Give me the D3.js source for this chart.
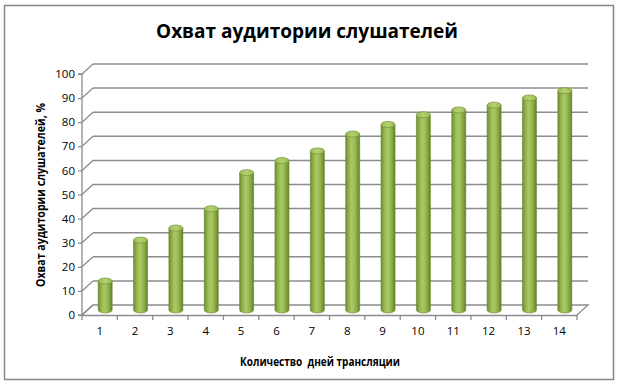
<!DOCTYPE html>
<html><head><meta charset="utf-8">
<script src="https://cdn.jsdelivr.net/npm/d3@7"></script>
<style>body{margin:0;background:#fff}svg{display:block}</style>
</head><body>
<svg id="c" width="620" height="386"></svg>
<script>
const categories = ["1","2","3","4","5","6","7","8","9","10","11","12","13","14"];
const values = [12, 29, 34, 42, 57, 62, 66, 73, 77, 81, 83, 85, 88, 91];
const yTicks = [0,10,20,30,40,50,60,70,80,90,100];
const title = "Охват аудитории слушателей";
const yTitle = "Охват аудитории слушателей, %";
const xTitle = "Количество  дней трансляции";

const svg = d3.select("#c");
const font = "'Open Sans', 'Liberation Sans', sans-serif";
const DX = 11, DY = -10;
const x = d3.scaleBand().domain(categories).range([82, 577]).paddingInner(0).paddingOuter(0);
const y = d3.scaleLinear().domain([0, 100]).range([315, 74]);

// border
svg.append("rect").attr("x",4.5).attr("y",5.5).attr("width",609).attr("height",374)
  .attr("fill","#fff").attr("stroke","#868686").attr("stroke-width",1.5);

// defs
const defs = svg.append("defs");
const g1 = defs.append("linearGradient").attr("id","cyl").attr("x1","0").attr("x2","1").attr("y1","0").attr("y2","0");
[[0,"#6c8a30"],[0.2,"#8fb04a"],[0.42,"#a9ca62"],[0.6,"#9fc05a"],[0.85,"#7f9f3c"],[1,"#5f7b28"]]
  .forEach(([o,c])=>g1.append("stop").attr("offset",o).attr("stop-color",c));
const g2 = defs.append("linearGradient").attr("id","top").attr("x1","0").attr("x2","1");
[[0,"#9cbc58"],[0.5,"#b4d172"],[1,"#98b955"]].forEach(([o,c])=>g2.append("stop").attr("offset",o).attr("stop-color",c));

const gridC = "#8c8c8c";
const grid = svg.append("g");
// back-wall gridlines + left wall diagonals
yTicks.forEach(t=>{
  const yy = y(t);
  grid.append("line").attr("x1",82).attr("y1",yy).attr("x2",82+DX).attr("y2",yy+DY)
    .attr("stroke",gridC).attr("stroke-width",1.3);
  if (t>0) grid.append("line").attr("x1",82+DX).attr("y1",yy+DY).attr("x2",577+DX).attr("y2",yy+DY)
    .attr("stroke",gridC).attr("stroke-width",1.5);
});
// floor
grid.append("path").attr("d",`M82,${y(0)}L${82+DX},${y(0)+DY}L${577+DX},${y(0)+DY}L577,${y(0)}`)
  .attr("fill","none").attr("stroke",gridC).attr("stroke-width",1.3);

// y axis
const yAxis = d3.axisLeft(y).tickValues(yTicks).tickSize(4).tickPadding(3);
const ya = svg.append("g").attr("transform","translate(82,0)").call(yAxis);
ya.select(".domain").attr("stroke",gridC).attr("stroke-width",1.3).attr("d",`M-4,${y(100)}H0V${y(0)}H-4`);
ya.selectAll(".tick line").attr("stroke",gridC).attr("stroke-width",1.3);
ya.selectAll("text").attr("font-family",font).attr("font-size",11.5).attr("fill","#000");

// x axis
const xAxis = d3.axisBottom(x).tickSize(0).tickPadding(12);
const xa = svg.append("g").attr("transform",`translate(0,${y(0)})`).call(xAxis);
xa.select(".domain").attr("stroke",gridC).attr("stroke-width",1.3);
xa.selectAll("text").attr("font-family",font).attr("font-size",11.5).attr("fill","#000");
const bounds = categories.map(c=>x(c)).concat([x(categories[categories.length-1])+x.bandwidth()]);
xa.selectAll(".bt").data(bounds).enter().append("line").attr("class","bt")
  .attr("x1",d=>d).attr("x2",d=>d).attr("y1",0).attr("y2",5).attr("stroke",gridC).attr("stroke-width",1.3);

// bars (cylinders)
const bw = 14, ry = 3;
const bars = svg.append("g");
categories.forEach((c,i)=>{
  const cx = x(c) + x.bandwidth()/2 + DX/2;
  const yb = y(0) + DY/2;
  const yt = y(values[i]) + DY/2;
  const g = bars.append("g");
  g.append("path")
    .attr("d",`M${cx-bw/2},${yt}V${yb}A${bw/2},${ry} 0 0 0 ${cx+bw/2},${yb}V${yt}Z`)
    .attr("fill","url(#cyl)").attr("stroke","#6a8a2c").attr("stroke-width",0.6);
  g.append("ellipse").attr("cx",cx).attr("cy",yt).attr("rx",bw/2).attr("ry",ry)
    .attr("fill","url(#top)").attr("stroke","#7a9a3a").attr("stroke-width",0.8);
});

// titles
svg.append("text").attr("x",307).attr("y",38).attr("text-anchor","middle")
  .attr("font-family",font).attr("font-weight","bold").attr("font-size",20)
  .attr("textLength",302).attr("lengthAdjust","spacingAndGlyphs").text(title);
svg.append("text").attr("transform","translate(45,195) rotate(-90)").attr("text-anchor","middle")
  .attr("font-family",font).attr("font-weight","bold").attr("font-size",12)
  .attr("textLength",184).attr("lengthAdjust","spacingAndGlyphs").text(yTitle);
svg.append("text").attr("x",320).attr("y",366).attr("text-anchor","middle")
  .attr("font-family",font).attr("font-weight","bold").attr("font-size",12)
  .attr("textLength",160).attr("lengthAdjust","spacingAndGlyphs").attr("xml:space","preserve").text(xTitle);
</script>
</body></html>
